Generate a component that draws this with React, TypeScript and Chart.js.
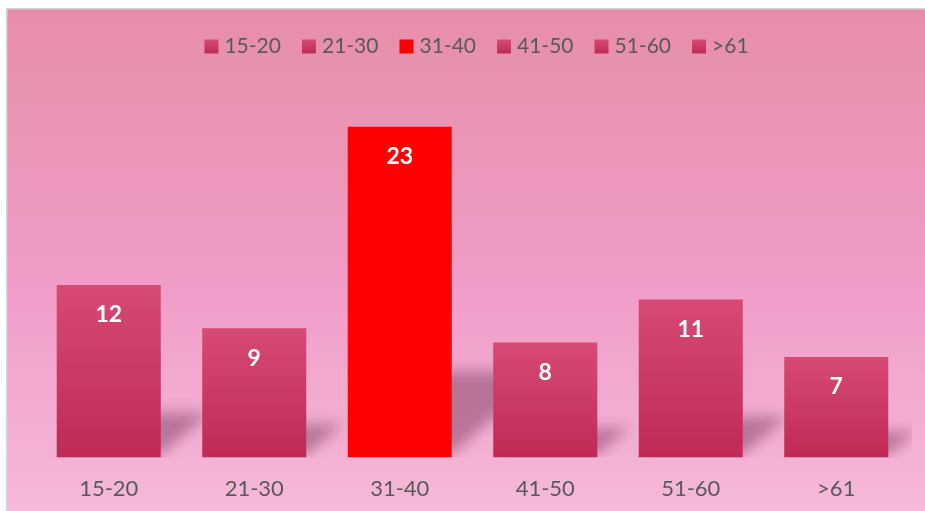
import React, { useEffect, useRef } from "react";
import { Chart, registerables } from "chart.js";

Chart.register(...registerables);

const categories = ["15-20", "21-30", "31-40", "41-50", "51-60", ">61"];
const values = [12, 9, 23, 8, 11, 7];
const highlighted = [false, false, true, false, false, false];
const yMax = 25;

const CANVAS_W = 919;
const CANVAS_H = 503;
const TEXT_COLOR = "#595959";
const FONT = "Lato, 'Open Sans', sans-serif";
const BAR_TOP = "#D64A74";
const BAR_BOTTOM = "#C02A55";
const HIGHLIGHT = "#FF0000";

function barFill(ctx: CanvasRenderingContext2D, top: number, bottom: number) {
  const g = ctx.createLinearGradient(0, top, 0, bottom);
  g.addColorStop(0, BAR_TOP);
  g.addColorStop(1, BAR_BOTTOM);
  return g;
}

const backgroundPlugin = {
  id: "bgPlugin",
  beforeDraw(chart: any) {
    const { ctx, width, height } = chart;
    ctx.save();
    const g = ctx.createLinearGradient(0, 0, 0, height);
    g.addColorStop(0, "#E68EA8");
    g.addColorStop(0.55, "#F09CC8");
    g.addColorStop(1, "#F5B9D9");
    ctx.fillStyle = g;
    ctx.fillRect(0, 0, width, height);
    ctx.strokeStyle = "#D4D4D4";
    ctx.lineWidth = 1.5;
    ctx.strokeRect(0.75, 0.75, width + 10, height + 10);
    ctx.restore();
  },
};

const shadowPlugin = {
  id: "shadowPlugin",
  beforeDatasetsDraw(chart: any) {
    const { ctx, chartArea } = chart;
    const meta = chart.getDatasetMeta(0);
    ctx.save();
    ctx.beginPath();
    ctx.rect(chartArea.left, chartArea.top, chartArea.right - chartArea.left + 3, chartArea.bottom - chartArea.top);
    ctx.clip();
    ctx.filter = "blur(7px)";
    ctx.fillStyle = "rgba(135, 70, 105, 0.55)";
    meta.data.forEach((bar: any) => {
      const p = bar.getProps(["x", "y", "base", "width"], true);
      const left = p.x - p.width / 2;
      const right = p.x + p.width / 2;
      const h = p.base - p.y;
      const sh = Math.max(h * 0.26, 26);
      const shift = sh * 1.1;
      ctx.beginPath();
      ctx.moveTo(left + 4, p.base - 3);
      ctx.lineTo(right, p.base - 3);
      ctx.lineTo(right + shift, p.base - sh);
      ctx.lineTo(left + shift, p.base - sh);
      ctx.closePath();
      ctx.fill();
    });
    ctx.restore();
  },
};

const labelsPlugin = {
  id: "valueLabels",
  afterDatasetsDraw(chart: any) {
    const { ctx } = chart;
    const meta = chart.getDatasetMeta(0);
    ctx.save();
    ctx.fillStyle = "#FFFFFF";
    ctx.font = `bold 23px ${FONT}`;
    ctx.textAlign = "center";
    ctx.textBaseline = "middle";
    meta.data.forEach((bar: any, i: number) => {
      const p = bar.getProps(["x", "y"], true);
      ctx.fillText(String(values[i]), p.x, p.y + 30);
    });
    ctx.restore();
  },
};

const legendPlugin = {
  id: "customLegend",
  afterDraw(chart: any) {
    const { ctx } = chart;
    ctx.save();
    ctx.font = `21px ${FONT}`;
    ctx.textBaseline = "middle";
    ctx.textAlign = "left";
    const box = 14;
    const gap = 6;
    const itemGap = 21;
    const widths = categories.map((c) => ctx.measureText(c).width);
    const total =
      widths.reduce((a, w) => a + box + gap + w, 0) + itemGap * (categories.length - 1);
    let x = 470.5 - total / 2;
    const boxTop = 31.5;
    const textY = 38.5;
    categories.forEach((c, i) => {
      ctx.fillStyle = highlighted[i] ? HIGHLIGHT : barFill(ctx, boxTop, boxTop + box);
      ctx.fillRect(x, boxTop, box, box);
      ctx.fillStyle = TEXT_COLOR;
      ctx.fillText(c, x + box + gap, textY);
      x += box + gap + widths[i] + itemGap;
    });
    ctx.restore();
  },
};

export default function App() {
  const canvasRef = useRef<HTMLCanvasElement | null>(null);

  useEffect(() => {
    const canvas = canvasRef.current;
    if (!canvas) return;
    const chart = new Chart(canvas, {
      type: "bar",
      data: {
        labels: categories,
        datasets: [
          {
            label: "Count",
            data: values,
            backgroundColor: (context: any) => {
              const i = context.dataIndex;
              if (highlighted[i]) return HIGHLIGHT;
              const ch = context.chart;
              const ys = ch.scales && ch.scales.y;
              if (!ys || i === undefined) return BAR_TOP;
              const top = ys.getPixelForValue(values[i]);
              const bottom = ys.getPixelForValue(0);
              if (!isFinite(top) || !isFinite(bottom) || top === bottom) return BAR_TOP;
              return barFill(ch.ctx, top, bottom);
            },
            borderWidth: 0,
            categoryPercentage: 1,
            barPercentage: 0.715,
          },
        ],
      },
      options: {
        responsive: false,
        animation: false,
        events: [],
        layout: { padding: { top: 90, left: 30, right: 16, bottom: -9 } },
        plugins: {
          legend: { display: false },
          tooltip: { enabled: false },
          title: { display: false },
        },
        scales: {
          x: {
            grid: { display: false, drawTicks: false },
            border: { display: false },
            ticks: {
              color: TEXT_COLOR,
              font: { family: FONT, size: 22 },
              padding: 18,
            },
          },
          y: {
            display: false,
            min: 0,
            max: yMax,
          },
        },
      },
      plugins: [backgroundPlugin, shadowPlugin, labelsPlugin, legendPlugin],
    });
    return () => chart.destroy();
  }, []);

  return (
    <div style={{ position: "absolute", left: 6, top: 8, width: CANVAS_W, height: CANVAS_H }}>
      <canvas ref={canvasRef} width={CANVAS_W} height={CANVAS_H} style={{ display: "block" }} />
    </div>
  );
}
